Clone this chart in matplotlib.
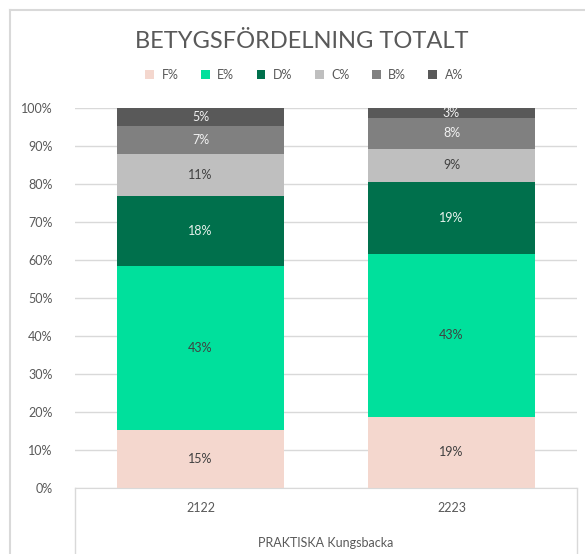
import matplotlib
matplotlib.use("Agg")
from matplotlib import pyplot as plt
from matplotlib.lines import Line2D
import numpy as np

# data (percent of students per grade)
years = ["2122", "2223"]
grades = ["F%", "E%", "D%", "C%", "B%", "A%"]
f_share = [15.3, 18.7]
e_share = [43.1, 42.9]
d_share = [18.4, 18.9]
c_share = [11.1, 8.8]
b_share = [7.4, 8.0]
a_share = [4.7, 2.7]

colors = ["#F4D7CE", "#00E09C", "#00704C", "#BFBFBF", "#808080", "#595959"]
label_colors = ["#404040", "#404040", "#E6F2EC", "#404040", "#F2F2F2", "#F2F2F2"]
text_gray = "#595959"
grid_gray = "#D9D9D9"

plt.rcParams["font.family"] = ["Lato", "DejaVu Sans"]

fig = plt.figure(figsize=(5.85, 5.54), dpi=100)
ax = fig.add_axes([75 / 585, 1 - 488 / 554, 502 / 585, 380 / 554])

x = np.arange(len(years))
bottom = np.zeros(len(years))
series = [f_share, e_share, d_share, c_share, b_share, a_share]
for name, vals, col, lcol in zip(grades, series, colors, label_colors):
    bars = ax.bar(x, vals, width=0.665, bottom=bottom, color=col, label=name, zorder=2)
    for rect, v in zip(bars, vals):
        ax.text(rect.get_x() + rect.get_width() / 2, rect.get_y() + v / 2,
                f"{round(v)}%", ha="center", va="center", fontsize=9, color=lcol)
    bottom += np.array(vals)

ax.set_xlim(-0.5, 1.5)
ax.set_ylim(0, 100)
ax.set_yticks(range(0, 101, 10))
ax.set_yticklabels([f"{t}%" for t in range(0, 101, 10)])
ax.set_xticks(x)
ax.set_xticklabels(years)
ax.tick_params(axis="both", length=0, colors=text_gray, labelsize=9)
ax.tick_params(axis="y", pad=16)
ax.tick_params(axis="x", pad=10)
ax.grid(axis="y", color=grid_gray, linewidth=1, zorder=0)
for s in ["top", "right", "left"]:
    ax.spines[s].set_visible(False)
ax.spines["bottom"].set_color(grid_gray)
ax.spines["bottom"].set_zorder(3)

# category box below the axis
for xa in (0, 1):
    ax.add_line(Line2D([xa, xa], [0, -0.2], transform=ax.transAxes,
                       color=grid_gray, linewidth=1, clip_on=False))
ax.text(0.5, -0.145, "PRAKTISKA Kungsbacka", transform=ax.transAxes,
        ha="center", va="center", fontsize=9, color=text_gray)

# outer chart border (cropped at right and bottom)
fig.add_artist(Line2D([10 / 585, 10 / 585], [0, 1 - 10 / 554], color=grid_gray, linewidth=1.5))
fig.add_artist(Line2D([10 / 585, 1], [1 - 10 / 554, 1 - 10 / 554], color=grid_gray, linewidth=1.5))

fig.text(0.515, 1 - 41 / 554, "BETYGSFÖRDELNING TOTALT", ha="center", va="center",
         fontsize=17, color=text_gray)
fig.legend(loc="center", bbox_to_anchor=(0.52, 1 - 75 / 554), ncol=6, frameon=False,
           fontsize=9, labelcolor=text_gray, handlelength=0.7, handleheight=0.7,
           columnspacing=1.8, handletextpad=0.6)

fig.savefig("out.png", dpi=100)
